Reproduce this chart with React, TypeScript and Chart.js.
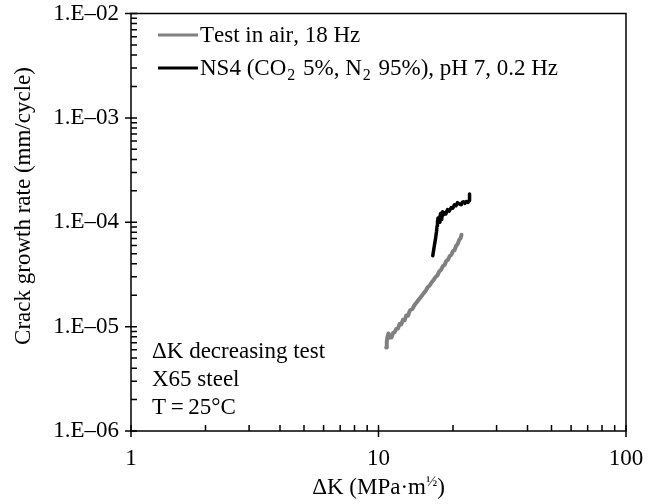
import React, { useEffect, useRef } from 'react';
import { Chart, registerables } from 'chart.js';

Chart.register(...registerables);

// ---- data ----
const X_TICKS = [1, 10, 100];
const X_TICK_LABELS = ['1', '10', '100'];
const Y_TICKS = [1e-6, 1e-5, 1e-4, 1e-3, 1e-2];
const Y_TICK_LABELS = ['1.E–06', '1.E–05', '1.E–04', '1.E–03', '1.E–02'];

const SERIES_LABELS = ['Test in air, 18 Hz', 'NS4 (CO₂ 5%, N₂ 95%), pH 7, 0.2 Hz'];

const airDK = [
  10.74, 10.8, 10.87, 10.97, 11.05, 11.15, 11.29, 11.45, 11.6, 11.8,
  12.0, 12.16, 12.35, 12.55, 12.75, 12.95, 13.15, 13.4, 13.72, 14.0,
  14.3, 14.6, 14.9, 15.2, 15.5, 15.8, 16.07, 16.4, 16.7, 17.0,
  17.31, 17.6, 17.9, 18.2, 18.5, 18.77, 19.1, 19.4, 19.7, 20.0,
  20.28, 20.6, 20.9, 21.2, 21.45, 21.65,
];
const airRate = [
  6.3e-6, 7.2e-6, 8.0e-6, 8.6e-6, 7.8e-6, 8.2e-6, 7.9e-6, 8.7e-6, 8.8e-6, 9.5e-6,
  9.6e-6, 1.06e-5, 1.05e-5, 1.16e-5, 1.15e-5, 1.28e-5, 1.27e-5, 1.43e-5, 1.48e-5, 1.62e-5,
  1.72e-5, 1.84e-5, 1.95e-5, 2.08e-5, 2.2e-5, 2.38e-5, 2.46e-5, 2.66e-5, 2.8e-5, 2.98e-5,
  3.1e-5, 3.38e-5, 3.5e-5, 3.8e-5, 3.9e-5, 4.25e-5, 4.38e-5, 4.75e-5, 4.88e-5, 5.3e-5,
  5.4e-5, 5.95e-5, 6.2e-5, 6.8e-5, 7.0e-5, 7.6e-5,
];

const ns4DK = [
  16.57, 16.7, 16.84, 17.0, 17.15, 17.25, 17.31, 17.4, 17.5, 17.6,
  17.7, 17.81, 17.9, 17.97, 18.05, 18.14, 18.3, 18.48, 18.7, 19.0,
  19.3, 19.67, 19.95, 20.28, 20.55, 20.86, 21.2, 21.59, 21.8, 22.05,
  22.35, 22.62, 23.0, 23.25, 23.3, 23.35,
];
const ns4Rate = [
  4.78e-5, 5.4e-5, 6.1e-5, 7.0e-5, 8.1e-5, 9.2e-5, 1.01e-4, 1.1e-4, 1.02e-4, 1.12e-4,
  1.0e-4, 1.21e-4, 1.06e-4, 1.15e-4, 1.08e-4, 1.26e-4, 1.18e-4, 1.23e-4, 1.2e-4, 1.32e-4,
  1.28e-4, 1.38e-4, 1.36e-4, 1.47e-4, 1.44e-4, 1.54e-4, 1.5e-4, 1.47e-4, 1.55e-4, 1.57e-4,
  1.52e-4, 1.58e-4, 1.55e-4, 1.62e-4, 1.75e-4, 1.87e-4,
];

const NOTE_LINES = ['ΔK decreasing test', 'X65 steel', 'T\u2009=\u200925°C'];
const X_TITLE = 'ΔK (MPa·m';
const X_TITLE_SUP = '½';
const Y_TITLE = 'Crack growth rate (mm/cycle)';

const COLORS = ['#808080', '#000000'];
const FONT = '"Liberation Serif", "Times New Roman", serif';
const f = (s: number) => `${s}px ${FONT}`;

function drawRich(ctx: CanvasRenderingContext2D, text: string, x: number, y: number, size: number) {
  // y is vertical middle; '₂' rendered as subscript 2
  let cx = x;
  ctx.textBaseline = 'middle';
  ctx.textAlign = 'left';
  for (const ch of text) {
    if (ch === '₂') {
      ctx.font = f(Math.round(size * 0.7));
      ctx.fillText('2', cx + 1, y + size * 0.3);
      cx += ctx.measureText('2').width + 3;
    } else {
      ctx.font = f(size);
      ctx.fillText(ch, cx, y);
      cx += ctx.measureText(ch).width;
    }
  }
}

const decoPlugin = {
  id: 'deco',
  afterDraw(chart: any) {
    const { ctx, chartArea: a, scales } = chart;
    const xs = scales.x;
    const ys = scales.y;
    ctx.save();
    ctx.strokeStyle = '#000';
    ctx.fillStyle = '#000';
    ctx.lineWidth = 1.5;
    ctx.strokeRect(a.left, a.top, a.right - a.left, a.bottom - a.top);

    ctx.beginPath();
    // x ticks
    for (const d of [1, 10]) {
      for (let m = 1; m <= 9; m++) {
        const px = xs.getPixelForValue(m * d);
        if (m === 1) {
          ctx.moveTo(px, a.bottom - 6);
          ctx.lineTo(px, a.bottom + 6);
        } else {
          ctx.moveTo(px, a.bottom - 6);
          ctx.lineTo(px, a.bottom);
        }
      }
    }
    {
      const px = xs.getPixelForValue(100);
      ctx.moveTo(px, a.bottom - 6);
      ctx.lineTo(px, a.bottom + 6);
    }
    // y ticks
    for (const d of [1e-6, 1e-5, 1e-4, 1e-3]) {
      for (let m = 1; m <= 9; m++) {
        const py = ys.getPixelForValue(m * d);
        if (m === 1) {
          ctx.moveTo(a.left - 6, py);
          ctx.lineTo(a.left + 6, py);
        } else {
          ctx.moveTo(a.left, py);
          ctx.lineTo(a.left + 6, py);
        }
      }
    }
    {
      const py = ys.getPixelForValue(1e-2);
      ctx.moveTo(a.left - 6, py);
      ctx.lineTo(a.left + 6, py);
    }
    ctx.stroke();

    // legend
    const legendRows = [35, 68];
    SERIES_LABELS.forEach((lab, i) => {
      ctx.strokeStyle = COLORS[i];
      ctx.lineWidth = 3;
      ctx.beginPath();
      ctx.moveTo(158, legendRows[i]);
      ctx.lineTo(198, legendRows[i]);
      ctx.stroke();
      ctx.fillStyle = '#000';
      drawRich(ctx, lab, 200, legendRows[i] + 1, 23);
    });

    // note
    ctx.fillStyle = '#000';
    ctx.font = f(23);
    ctx.textAlign = 'left';
    ctx.textBaseline = 'middle';
    const noteY = [352, 380, 408];
    NOTE_LINES.forEach((t, i) => ctx.fillText(t, 152, noteY[i]));

    // x title
    ctx.font = f(23);
    const w1 = ctx.measureText(X_TITLE).width;
    ctx.font = f(15);
    const w2 = ctx.measureText(X_TITLE_SUP).width;
    ctx.font = f(23);
    const w3 = ctx.measureText(')').width;
    const total = w1 + w2 + w3;
    let cx = (a.left + a.right) / 2 - total / 2;
    ctx.fillText(X_TITLE, cx, 488);
    cx += w1;
    ctx.font = f(15);
    ctx.fillText(X_TITLE_SUP, cx, 482);
    cx += w2;
    ctx.font = f(23);
    ctx.fillText(')', cx, 488);

    // y title
    ctx.save();
    ctx.translate(24, 206);
    ctx.rotate(-Math.PI / 2);
    ctx.textAlign = 'center';
    ctx.fillText(Y_TITLE, 0, 0);
    ctx.restore();

    ctx.restore();
  },
};

export default function App() {
  const ref = useRef<HTMLCanvasElement | null>(null);
  useEffect(() => {
    if (!ref.current) return;
    const chart = new Chart(ref.current, {
      type: 'line',
      data: {
        datasets: [
          {
            label: SERIES_LABELS[0],
            data: airDK.map((x, i) => ({ x, y: airRate[i] })),
            borderColor: COLORS[0],
            borderWidth: 4,
            pointRadius: 0,
            tension: 0,
            borderJoinStyle: 'round',
            borderCapStyle: 'round',
          },
          {
            label: SERIES_LABELS[1],
            data: ns4DK.map((x, i) => ({ x, y: ns4Rate[i] })),
            borderColor: COLORS[1],
            borderWidth: 3.5,
            pointRadius: 0,
            tension: 0,
            borderJoinStyle: 'round',
            borderCapStyle: 'round',
          },
        ],
      },
      options: {
        animation: false,
        responsive: false,
        layout: { padding: { top: 13.5, right: 27, left: 0, bottom: 0 } },
        plugins: { legend: { display: false }, tooltip: { enabled: false } },
        scales: {
          x: {
            type: 'logarithmic',
            min: 1,
            max: 100,
            grid: { display: false, drawTicks: false },
            border: { display: false },
            afterBuildTicks: (s: any) => {
              s.ticks = X_TICKS.map((v) => ({ value: v }));
            },
            afterFit: (s: any) => {
              s.height = 73;
              s.paddingLeft = 0;
              s.paddingRight = 0;
            },
            ticks: {
              autoSkip: false,
              maxRotation: 0,
              padding: 16,
              color: '#000',
              font: { family: FONT, size: 23, lineHeight: 1 },
              callback: (v: any) => {
                const i = X_TICKS.indexOf(Number(v));
                return i >= 0 ? X_TICK_LABELS[i] : null;
              },
            },
          },
          y: {
            type: 'logarithmic',
            min: 1e-6,
            max: 1e-2,
            grid: { display: false, drawTicks: false },
            border: { display: false },
            afterBuildTicks: (s: any) => {
              s.ticks = Y_TICKS.map((v) => ({ value: v }));
            },
            afterFit: (s: any) => {
              s.width = 131;
              s.paddingTop = 0;
              s.paddingBottom = 0;
            },
            ticks: {
              autoSkip: false,
              padding: 12,
              color: '#000',
              font: { family: FONT, size: 23, lineHeight: 1 },
              callback: (v: any) => {
                const n = Number(v);
                const i = Y_TICKS.findIndex((t) => Math.abs(t - n) / t < 1e-6);
                return i >= 0 ? Y_TICK_LABELS[i] : null;
              },
            },
          },
        },
      } as any,
      plugins: [decoPlugin],
    });
    return () => chart.destroy();
  }, []);
  return (
    <div style={{ position: 'fixed', left: 0, top: 0, width: 653, height: 504, background: '#fff' }}>
      <canvas ref={ref} width={653} height={504} style={{ display: 'block' }} />
    </div>
  );
}
